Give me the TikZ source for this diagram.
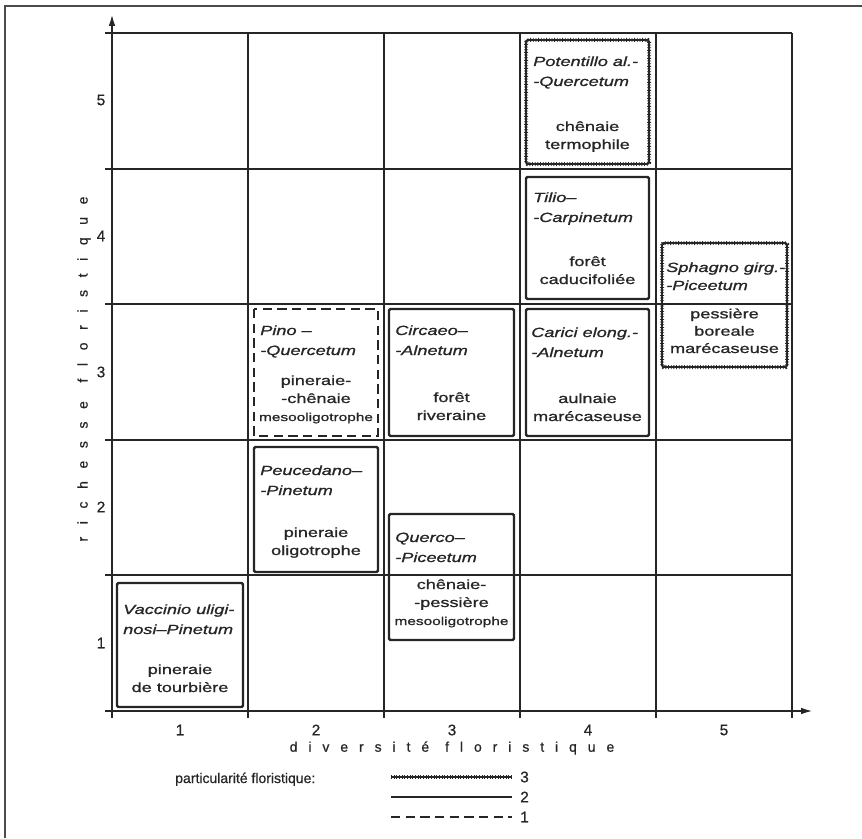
\documentclass[tikz,border=0pt]{standalone}
\usepackage{fontspec}
\usetikzlibrary{arrows.meta}
\setmainfont{Liberation Sans}[FakeBold=0.7]
\newfontfamily\boxfont[FakeStretch=1.36,FakeBold=1.1]{Liberation Sans}
\newfontfamily\xspacedfont[LetterSpace=78,FakeBold=0.7]{Liberation Sans}
\newfontfamily\yspacedfont[LetterSpace=90,FakeBold=0.7]{Liberation Sans}
\definecolor{ink}{HTML}{262626}
\tikzset{
	gridline/.style={line width=1.1pt, color=ink},
	axisline/.style={line width=1.5pt, color=ink, -{Latex[length=9pt,width=5pt]}},
	boxone/.style={line width=1.5pt, color=ink, dash pattern=on 7pt off 4pt},
	boxtwo/.style={line width=1.8pt, color=ink, rounded corners=1pt},
	boxthree/.style={line width=1.3pt, color=ink, rounded corners=1pt,
		postaction={draw, line width=3pt, dash pattern=on 0.6pt off 1.4pt}},
	latin/.style={anchor=base west, inner sep=0pt, align=left, text=ink,
		font=\boxfont\itshape\fontsize{10}{15}\selectfont},
	common/.style={anchor=base, inner sep=0pt, align=center, text=ink,
		font=\boxfont\fontsize{10}{13.5}\selectfont},
	ticklabel/.style={inner sep=0pt, text=ink, font=\fontsize{11.5}{13}\selectfont}
}
\newcommand{\smallbox}{\fontsize{8.5}{12}\selectfont}

\begin{document}
\begin{tikzpicture}[x=0.75pt,y=-0.75pt]
			%%%%% FRAME %%%%%
			\useasboundingbox (0,0) rectangle (862,838);
			\draw[line width=1.2pt, color=black!70] (5,838) -- (5,6) -- (862,6);
			
			%%%%% GRID %%%%%
			\draw[gridline] (105,33) -- (792,33);
			\draw[gridline] (105,169) -- (792,169);
			\draw[gridline] (105,304) -- (792,304);
			\draw[gridline] (105,440) -- (792,440);
			\draw[gridline] (105,575) -- (792,575);
			
			\draw[gridline] (248,33) -- (248,718);
			\draw[gridline] (384,33) -- (384,718);
			\draw[gridline] (520,33) -- (520,718);
			\draw[gridline] (656,33) -- (656,718);
			\draw[gridline] (792,33) -- (792,718);
			
			\draw[axisline] (105,711) -- (813,711);
			\draw[axisline] (112,718) -- (112,14);
			
			%%%%% AXES LABELS %%%%%
			\node[ticklabel] (x1) at (180,730) {1};
			\node[ticklabel] (x2) at (316,730) {2};
			\node[ticklabel] (x3) at (452,730) {3};
			\node[ticklabel] (x4) at (588,730) {4};
			\node[ticklabel] (x5) at (724,730) {5};
			
			\node[ticklabel] (y1) at (101,643) {1};
			\node[ticklabel] (y2) at (101,507) {2};
			\node[ticklabel] (y3) at (101,372) {3};
			\node[ticklabel] (y4) at (101,236) {4};
			\node[ticklabel] (y5) at (101,100) {5};
			
			\node[ticklabel, font=\xspacedfont\fontsize{10.5}{12}\selectfont] (xtitle) at (452,748) {diversité\hspace{12pt}floristique};
			\node[ticklabel, rotate=90, font=\yspacedfont\fontsize{10.5}{12}\selectfont] (ytitle) at (84,369) {richesse\hspace{14pt}floristique};
			
			%%%%% BIOTOPES %%%%%
			\draw[boxthree] (526,40) rectangle (649,164);
			\node[latin] (potentillo) at (533,86) {Potentillo al.-\\-Quercetum};
			\node[common] (chenaieterm) at (587.5,149) {chênaie\\termophile};
			
			\draw[boxtwo] (526,177) rectangle (649,299);
			\node[latin] (tilio) at (533,222) {Tilio–\\-Carpinetum};
			\node[common] (foretcad) at (587.5,284) {forêt\\caducifoliée};
			
			\draw[boxtwo] (526,309) rectangle (649,436);
			\node[latin] (carici) at (531,357) {Carici elong.-\\-Alnetum};
			\node[common] (aulnaie) at (587.5,421) {aulnaie\\marécaseuse};
			
			\draw[boxthree] (662,243) rectangle (787,367);
			\node[latin, font=\boxfont\itshape\fontsize{10}{13.5}\selectfont] (sphagno) at (666,290) {Sphagno girg.-\\-Piceetum};
			\node[common, font=\boxfont\fontsize{10}{13}\selectfont] (pessiere) at (724.5,353) {pessière\\boreale\\marécaseuse};
			
			\draw[boxone] (254,309) rectangle (378,436);
			\node[latin] (pino) at (260,355) {Pino –\\-Quercetum};
			\node[common] (pinchen) at (316,421) {pineraie-\\-chênaie\\{\smallbox mesooligotrophe}};
			
			\draw[boxtwo] (389,309) rectangle (514,436);
			\node[latin] (circaeo) at (395,355) {Circaeo–\\-Alnetum};
			\node[common] (foretriv) at (451.5,420) {forêt\\riveraine};
			
			\draw[boxtwo] (254,447) rectangle (378,572);
			\node[latin] (peucedano) at (260,495) {Peucedano–\\-Pinetum};
			\node[common] (pinoligo) at (316,555) {pineraie\\oligotrophe};
			
			\draw[boxtwo] (389,514) rectangle (514,640);
			\node[latin] (querco) at (395,562) {Querco–\\-Piceetum};
			\node[common] (chenpess) at (451.5,625) {chênaie-\\-pessière\\{\smallbox mesooligotrophe}};
			
			\draw[boxtwo] (117,583) rectangle (243,707);
			\node[latin] (vaccinio) at (123,634) {Vaccinio uligi-\\nosi–Pinetum};
			\node[common] (pintourb) at (180,692) {pineraie\\de tourbière};
			
			%%%%% LEGEND %%%%%
			\node[anchor=base west, inner sep=0pt, text=ink, font=\fontsize{10.5}{12}\selectfont] (legend) at (175,783) {particularité floristique:};
			\draw[boxthree] (391,777) -- (512,777);
			\draw[boxtwo] (391,797) -- (512,797);
			\draw[boxone] (391,817) -- (512,817);
			\node[ticklabel, anchor=west] (lthree) at (520,777) {3};
			\node[ticklabel, anchor=west] (ltwo) at (520,797) {2};
			\node[ticklabel, anchor=west] (lone) at (520,817) {1};
			
			%%%%% END %%%%%
\end{tikzpicture}
\end{document}
